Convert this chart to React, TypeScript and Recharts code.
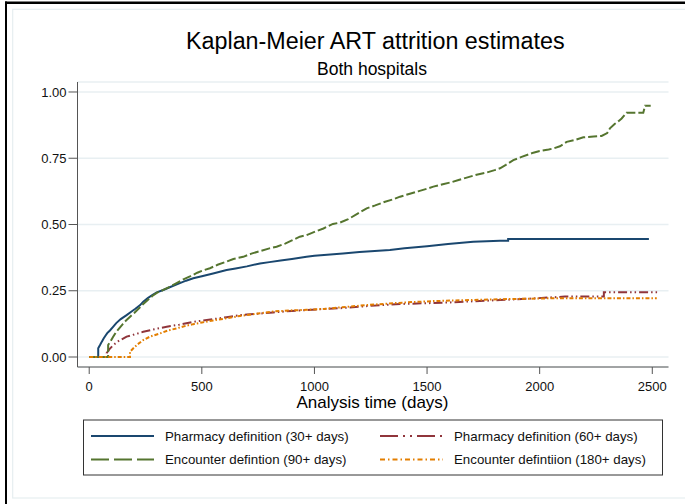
import { CartesianGrid, Line, LineChart, XAxis, YAxis } from "recharts";

const FONT = '"Liberation Sans", Arial, Helvetica, sans-serif';

const xTicks = [0, 500, 1000, 1500, 2000, 2500];
const yTicks = [0, 0.25, 0.5, 0.75, 1];

// Pharmacy definition (30+ days)
const pharm30Days = [0, 40, 40, 48, 56, 64, 72, 80, 92, 105, 120, 140, 166, 185, 205, 225, 240, 260, 280, 300, 329, 360, 400, 430, 462, 500, 550, 610, 650, 700, 758, 800, 850, 900, 965, 1000, 1127, 1200, 1335, 1400, 1500, 1593, 1705, 1824, 1860, 1860, 2485];
const pharm30Fail = [0, 0, 0.033, 0.045, 0.058, 0.07, 0.08, 0.09, 0.1, 0.113, 0.128, 0.143, 0.158, 0.17, 0.182, 0.195, 0.209, 0.222, 0.234, 0.244, 0.253, 0.264, 0.278, 0.288, 0.297, 0.305, 0.315, 0.328, 0.334, 0.342, 0.353, 0.358, 0.364, 0.37, 0.378, 0.382, 0.391, 0.396, 0.404, 0.41, 0.418, 0.426, 0.435, 0.439, 0.439, 0.445, 0.445];

// Pharmacy definition (60+ days)
const pharm60Days = [0, 77, 77, 90, 107, 130, 166, 200, 240, 290, 344, 400, 462, 500, 550, 610, 669, 700, 758, 817, 900, 965, 1050, 1113, 1200, 1300, 1380, 1500, 1602, 1700, 1824, 1950, 2112, 2200, 2285, 2285, 2526];
const pharm60Fail = [0, 0, 0.014, 0.03, 0.045, 0.06, 0.077, 0.085, 0.095, 0.105, 0.114, 0.122, 0.133, 0.137, 0.143, 0.15, 0.158, 0.16, 0.164, 0.168, 0.174, 0.177, 0.182, 0.184, 0.19, 0.196, 0.2, 0.203, 0.206, 0.21, 0.215, 0.22, 0.228, 0.228, 0.228, 0.244, 0.244];

// Encounter defintion (90+ days)
const enc90Days = [0, 84, 84, 95, 107, 120, 135, 150, 166, 185, 200, 220, 240, 260, 280, 300, 329, 360, 390, 418, 450, 480, 500, 536, 570, 610, 640, 684, 720, 760, 800, 832, 870, 900, 935, 965, 1000, 1040, 1082, 1113, 1150, 1190, 1232, 1270, 1310, 1350, 1380, 1420, 1460, 1500, 1528, 1570, 1610, 1640, 1676, 1720, 1760, 1800, 1824, 1850, 1883, 1920, 1972, 2000, 2040, 2061, 2090, 2120, 2160, 2194, 2240, 2275, 2300, 2312, 2334, 2350, 2364, 2386, 2460, 2468, 2493];
const enc90Fail = [0, 0, 0.045, 0.06, 0.077, 0.095, 0.11, 0.125, 0.14, 0.155, 0.166, 0.183, 0.2, 0.215, 0.23, 0.242, 0.253, 0.266, 0.28, 0.293, 0.305, 0.318, 0.325, 0.335, 0.348, 0.36, 0.37, 0.378, 0.39, 0.4, 0.41, 0.416, 0.428, 0.44, 0.454, 0.46, 0.472, 0.485, 0.502, 0.507, 0.52, 0.54, 0.561, 0.572, 0.585, 0.595, 0.605, 0.615, 0.625, 0.635, 0.643, 0.652, 0.66, 0.668, 0.677, 0.688, 0.695, 0.705, 0.712, 0.725, 0.743, 0.755, 0.771, 0.777, 0.783, 0.787, 0.795, 0.812, 0.82, 0.829, 0.832, 0.834, 0.845, 0.863, 0.88, 0.89, 0.9, 0.922, 0.922, 0.948, 0.948];

// Encounter defintiion (180+ days)
const enc180Days = [0, 181, 181, 196, 215, 240, 270, 314, 350, 388, 430, 462, 500, 550, 610, 669, 700, 758, 817, 900, 965, 1050, 1113, 1232, 1350, 1450, 1528, 1650, 1824, 1950, 2000, 2120, 2520];
const enc180Fail = [0, 0, 0.02, 0.033, 0.048, 0.064, 0.077, 0.089, 0.1, 0.108, 0.118, 0.124, 0.13, 0.138, 0.146, 0.155, 0.158, 0.165, 0.172, 0.176, 0.178, 0.182, 0.187, 0.196, 0.203, 0.208, 0.211, 0.214, 0.218, 0.22, 0.221, 0.222, 0.222];

const toRows = (days: number[], fail: number[]) => days.map((d, i) => ({ day: d, fail: fail[i] }));

const series = [
  { name: "Pharmacy definition (30+ days)", rows: toRows(pharm30Days, pharm30Fail), color: "#1a476f", dash: undefined, legendDash: undefined },
  { name: "Pharmacy definition (60+ days)", rows: toRows(pharm60Days, pharm60Fail), color: "#90353b", dash: "9 3 1.5 3 1.5 3", legendDash: "18 5 2 5 2 5" },
  { name: "Encounter defintion (90+ days)", rows: toRows(enc90Days, enc90Fail), color: "#55752f", dash: "9 3", legendDash: "18 5" },
  { name: "Encounter defintiion (180+ days)", rows: toRows(enc180Days, enc180Fail), color: "#e37e00", dash: "4 2 1.5 2", legendDash: "5 3 1.5 3" },
];

// legend slots: column x positions, row y positions (row-major order)
const legendSlots = [
  { lx: 91, tx: 165, y: 436 },
  { lx: 380, tx: 454, y: 436 },
  { lx: 91, tx: 165, y: 459.5 },
  { lx: 380, tx: 454, y: 459.5 },
];

export default function App() {
  const tickStyle = { fill: "#111", fontSize: 13, fontFamily: FONT };
  return (
    <div style={{ position: "relative", width: 685, height: 504, background: "#fff", fontFamily: FONT }}>
      <style>{"body{margin:0}"}</style>
      <LineChart width={685} height={504} margin={{ top: 82, right: 16.5, bottom: 107, left: 0 }}>
        <CartesianGrid vertical={false} stroke="#e8eff2" strokeWidth={1.5} />
        <XAxis
          type="number"
          dataKey="day"
          domain={[-52, 2572]}
          ticks={xTicks}
          allowDataOverflow
          height={30}
          tickSize={7}
          tickMargin={8}
          stroke="#555"
          tick={tickStyle}
        />
        <YAxis
          type="number"
          domain={[-0.0377, 1.0377]}
          ticks={yTicks}
          allowDataOverflow
          width={77.5}
          tickSize={9}
          tickMargin={2}
          stroke="#555"
          tick={tickStyle}
          tickFormatter={(v: number) => v.toFixed(2)}
        />
        {series.map((s) => (
          <Line
            key={s.name}
            data={s.rows}
            dataKey="fail"
            name={s.name}
            type="linear"
            stroke={s.color}
            strokeWidth={2}
            strokeDasharray={s.dash}
            dot={false}
            activeDot={false}
            isAnimationActive={false}
          />
        ))}
      </LineChart>
      <svg
        width={685}
        height={504}
        style={{ position: "absolute", left: 0, top: 0, pointerEvents: "none" }}
        fontFamily={FONT}
      >
        <rect x={5} y={1.5} width={680} height={2.5} fill="#000" />
        <rect x={5} y={1.5} width={2} height={503} fill="#000" />
        <rect x={12.7} y={9.3} width={700} height={488.7} fill="none" stroke="#e6eef0" strokeWidth={1.2} />
        <text x={375.3} y={49.3} textAnchor="middle" fontSize={23.3} fill="#000">
          Kaplan-Meier ART attrition estimates
        </text>
        <text x={372} y={75} textAnchor="middle" fontSize={17.5} fill="#000">
          Both hospitals
        </text>
        <text x={372.5} y={407.5} textAnchor="middle" fontSize={17} fill="#000">
          Analysis time (days)
        </text>
        <rect x={83.5} y={420} width={579} height={55} fill="none" stroke="#333" strokeWidth={1} />
        {series.map((s, i) => {
          const slot = legendSlots[i];
          return (
            <g key={s.name}>
              <line
                x1={slot.lx}
                x2={slot.lx + 63}
                y1={slot.y}
                y2={slot.y}
                stroke={s.color}
                strokeWidth={2}
                strokeDasharray={s.legendDash}
              />
              <text x={slot.tx} y={slot.y + 4.6} fontSize={13.3} fill="#111">
                {s.name}
              </text>
            </g>
          );
        })}
      </svg>
    </div>
  );
}
